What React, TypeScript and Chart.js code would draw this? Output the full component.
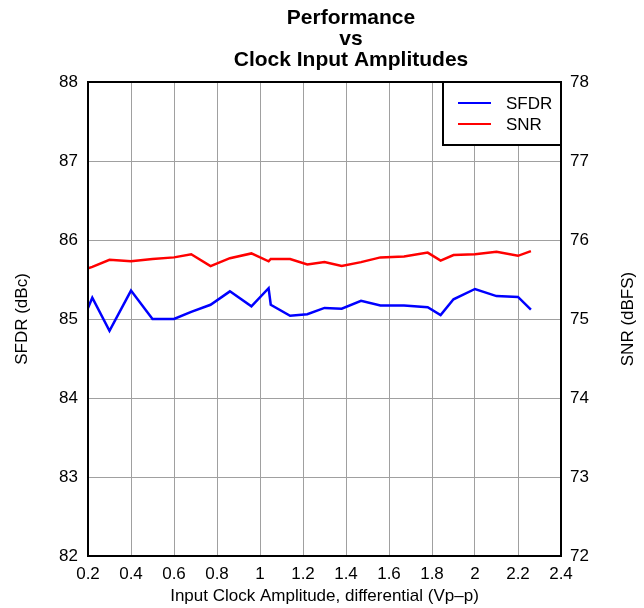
import React, { useEffect, useRef } from "react";
import { Chart, registerables } from "chart.js";

Chart.register(...registerables);

const amplitudes = [0.2, 0.22, 0.3, 0.4, 0.5, 0.6, 0.68, 0.77, 0.86, 0.96, 1.04, 1.05, 1.14, 1.22, 1.3, 1.38, 1.47, 1.56, 1.67, 1.78, 1.84, 1.9, 2.0, 2.1, 2.2, 2.26];
const sfdr = [85.14, 85.27, 84.85, 85.36, 85.0, 85.0, 85.09, 85.18, 85.35, 85.16, 85.39, 85.18, 85.04, 85.06, 85.14, 85.13, 85.23, 85.17, 85.17, 85.15, 85.05, 85.25, 85.38, 85.29, 85.28, 85.12];
const snr = [75.64, 75.66, 75.75, 75.73, 75.76, 75.78, 75.82, 75.67, 75.77, 75.83, 75.73, 75.76, 75.76, 75.69, 75.72, 75.67, 75.72, 75.78, 75.79, 75.84, 75.74, 75.81, 75.82, 75.85, 75.8, 75.86];
const titleLines = ["Performance", "vs", "Clock Input Amplitudes"];
const seriesNames = ["SFDR", "SNR"];
const xTitle = "Input Clock Amplitude, differential (Vp\u2013p)";
const yLeftTitle = "SFDR (dBc)";
const yRightTitle = "SNR (dBFS)";

const FONT = "'Liberation Sans', Arial, Helvetica, sans-serif";

export default function App() {
  const ref = useRef<HTMLCanvasElement>(null);
  useEffect(() => {
    document.body.style.margin = "0";
    const canvas = ref.current!;
    const overlay = {
      id: "overlay",
      afterDraw(chart: any) {
        const ctx = chart.ctx as CanvasRenderingContext2D;
        const a = chart.chartArea;
        ctx.save();
        // frame
        ctx.strokeStyle = "#000";
        ctx.lineWidth = 2;
        ctx.strokeRect(a.left, a.top, a.right - a.left, a.bottom - a.top);
        // title
        ctx.fillStyle = "#000";
        ctx.font = `bold 21px ${FONT}`;
        ctx.textAlign = "center";
        ctx.textBaseline = "middle";
        titleLines.forEach((t, i) => ctx.fillText(t, 351, 18 + i * 21));
        // right axis title (reads bottom to top)
        ctx.save();
        ctx.translate(628, (a.top + a.bottom) / 2);
        ctx.rotate(-Math.PI / 2);
        ctx.font = `17px ${FONT}`;
        ctx.fillText(yRightTitle, 0, 0);
        ctx.restore();
        // legend
        const lx = 443, ly = a.top, lw = a.right - 443, lh = 63;
        ctx.fillStyle = "#fff";
        ctx.fillRect(lx, ly, lw, lh);
        ctx.strokeStyle = "#000";
        ctx.lineWidth = 2;
        ctx.strokeRect(lx, ly, lw, lh);
        const colors = ["#0000ff", "#ff0000"];
        seriesNames.forEach((n, i) => {
          const y = 103 + i * 21;
          ctx.strokeStyle = colors[i];
          ctx.lineWidth = 2;
          ctx.beginPath();
          ctx.moveTo(458, y);
          ctx.lineTo(491, y);
          ctx.stroke();
          ctx.fillStyle = "#000";
          ctx.font = `17px ${FONT}`;
          ctx.textAlign = "left";
          ctx.textBaseline = "middle";
          ctx.fillText(n, 506, y + 1);
        });
        ctx.restore();
      },
    };
    const tickFont = { family: FONT, size: 17 };
    const chart = new Chart(canvas, {
      type: "line",
      data: {
        datasets: [
          {
            label: seriesNames[0],
            data: amplitudes.map((x, i) => ({ x, y: sfdr[i] })),
            borderColor: "#0000ff",
            borderWidth: 2.5,
            pointRadius: 0,
            tension: 0,
            yAxisID: "y",
          },
          {
            label: seriesNames[1],
            data: amplitudes.map((x, i) => ({ x, y: snr[i] })),
            borderColor: "#ff0000",
            borderWidth: 2.5,
            pointRadius: 0,
            tension: 0,
            yAxisID: "y2",
          },
        ],
      },
      options: {
        responsive: false,
        animation: false,
        layout: { padding: { top: 82, left: 0, right: 0, bottom: 0 } },
        plugins: { legend: { display: false }, tooltip: { enabled: false }, title: { display: false } },
        scales: {
          x: {
            type: "linear",
            min: 0.2,
            max: 2.4,
            ticks: {
              stepSize: 0.2,
              color: "#000",
              font: tickFont,
              padding: 8,
              maxRotation: 0,
              callback: (v: any) => String(parseFloat(Number(v).toFixed(1))),
            },
            grid: { color: "#a0a0a0", lineWidth: 1, drawTicks: false },
            border: { display: false },
            title: { display: true, text: xTitle, color: "#000", font: { family: FONT, size: 17 }, padding: { top: 0, bottom: 1 } },
            afterFit: (s: any) => { s.height = 52; },
          },
          y: {
            type: "linear",
            position: "left",
            min: 82,
            max: 88,
            ticks: { stepSize: 1, color: "#000", font: tickFont, padding: 10 },
            grid: { color: "#a0a0a0", lineWidth: 1, drawTicks: false },
            border: { display: false },
            title: { display: true, text: yLeftTitle, color: "#000", font: { family: FONT, size: 17 }, padding: { top: 12, bottom: 0 } },
            afterFit: (s: any) => { s.width = 88; },
          },
          y2: {
            type: "linear",
            position: "right",
            min: 72,
            max: 78,
            ticks: { stepSize: 1, color: "#000", font: tickFont, padding: 9 },
            grid: { drawOnChartArea: false, drawTicks: false },
            border: { display: false },
            title: { display: false, text: yRightTitle },
            afterFit: (s: any) => { s.width = 83; },
          },
        },
      },
      plugins: [overlay],
    } as any);
    return () => chart.destroy();
  }, []);
  return <canvas ref={ref} width={644} height={608} style={{ display: "block" }} />;
}
